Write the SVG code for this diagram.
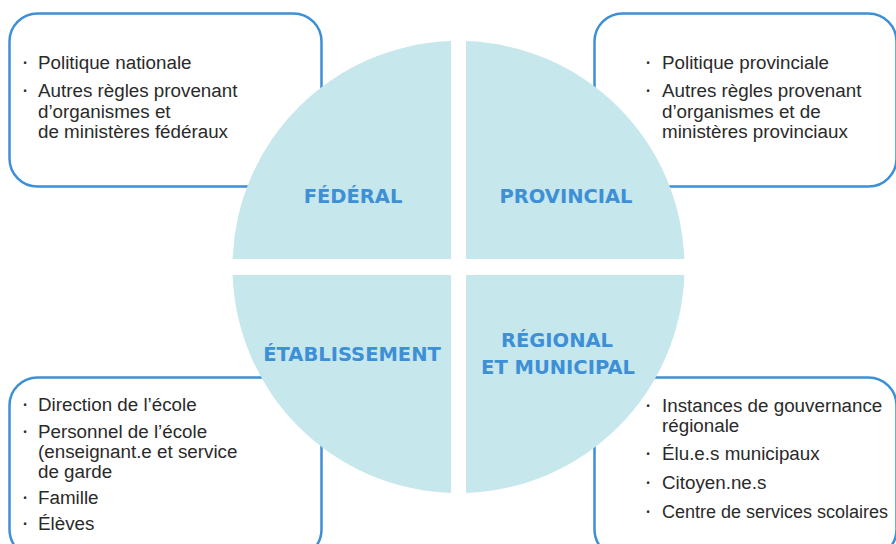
<svg xmlns="http://www.w3.org/2000/svg" width="896" height="544" viewBox="0 0 896 544">
<style>
.box{fill:#fff;stroke:#3d8fd6;stroke-width:2.5}
.q{fill:#c6e7ec}
.t{font-family:"Liberation Sans",Arial,sans-serif;font-size:18.8px;fill:#2a2a2a}
.b{font-family:"Noto Sans",sans-serif;font-size:11px;fill:#2a2a2a}
.h{font-family:"DejaVu Sans",sans-serif;font-weight:bold;font-size:19.5px;fill:#3d8fd6;text-anchor:middle}
</style>
<rect width="896" height="544" fill="#fff"/>
<g id="box-federal">
<rect class="box" x="9.5" y="13.5" width="312" height="173" rx="28"/>
<text class="b" x="23" y="67">•</text>
<text class="t" x="38" y="69">Politique nationale</text>
<text class="b" x="23" y="95">•</text>
<text class="t" x="38" y="97">Autres règles provenant</text>
<text class="t" x="38" y="118">d’organismes et</text>
<text class="t" x="38" y="138">de ministères fédéraux</text>
</g>
<g id="box-provincial">
<rect class="box" x="594.5" y="13.5" width="302" height="173" rx="28"/>
<text class="b" x="646" y="67">•</text>
<text class="t" x="662" y="69">Politique provinciale</text>
<text class="b" x="646" y="95">•</text>
<text class="t" x="662" y="97">Autres règles provenant</text>
<text class="t" x="662" y="118">d’organismes et de</text>
<text class="t" x="662" y="138">ministères provinciaux</text>
</g>
<g id="box-etablissement">
<rect class="box" x="9.5" y="377.5" width="312" height="180" rx="28"/>
<text class="b" x="23" y="409">•</text>
<text class="t" x="38" y="411">Direction de l’école</text>
<text class="b" x="23" y="436">•</text>
<text class="t" x="38" y="438">Personnel de l’école</text>
<text class="t" x="38" y="458">(enseignant.e et service</text>
<text class="t" x="38" y="478">de garde</text>
<text class="b" x="23" y="502">•</text>
<text class="t" x="38" y="504">Famille</text>
<text class="b" x="23" y="528">•</text>
<text class="t" x="38" y="530">Élèves</text>
</g>
<g id="box-regional">
<rect class="box" x="594.5" y="377.5" width="302" height="180" rx="28"/>
<text class="b" x="646" y="410">•</text>
<text class="t" x="662" y="412">Instances de gouvernance</text>
<text class="t" x="662" y="432">régionale</text>
<text class="b" x="646" y="458">•</text>
<text class="t" x="662" y="460">Élu.e.s municipaux</text>
<text class="b" x="646" y="487">•</text>
<text class="t" x="662" y="489">Citoyen.ne.s</text>
<text class="b" x="646" y="516">•</text>
<text class="t" x="662" y="518" style="font-size:18px">Centre de services scolaires</text>
</g>
<g id="federal">
<path class="q" d="M451 259 L232.6 259 A226 226 0 0 1 451 41.1 Z"/>
<text class="h" x="353" y="203">FÉDÉRAL</text>
</g>
<g id="provincial">
<path class="q" d="M466 259 L466 41.1 A226 226 0 0 1 684.4 259 Z"/>
<text class="h" x="566" y="203">PROVINCIAL</text>
</g>
<g id="etablissement">
<path class="q" d="M451 275 L451 492.9 A226 226 0 0 1 232.6 275 Z"/>
<text class="h" x="352" y="361">ÉTABLISSEMENT</text>
</g>
<g id="regional">
<path class="q" d="M466 275 L684.4 275 A226 226 0 0 1 466 492.9 Z"/>
<text class="h" x="557" y="347">RÉGIONAL</text>
<text class="h" x="558" y="374">ET MUNICIPAL</text>
</g>
<g id="connectors"/>
</svg>
